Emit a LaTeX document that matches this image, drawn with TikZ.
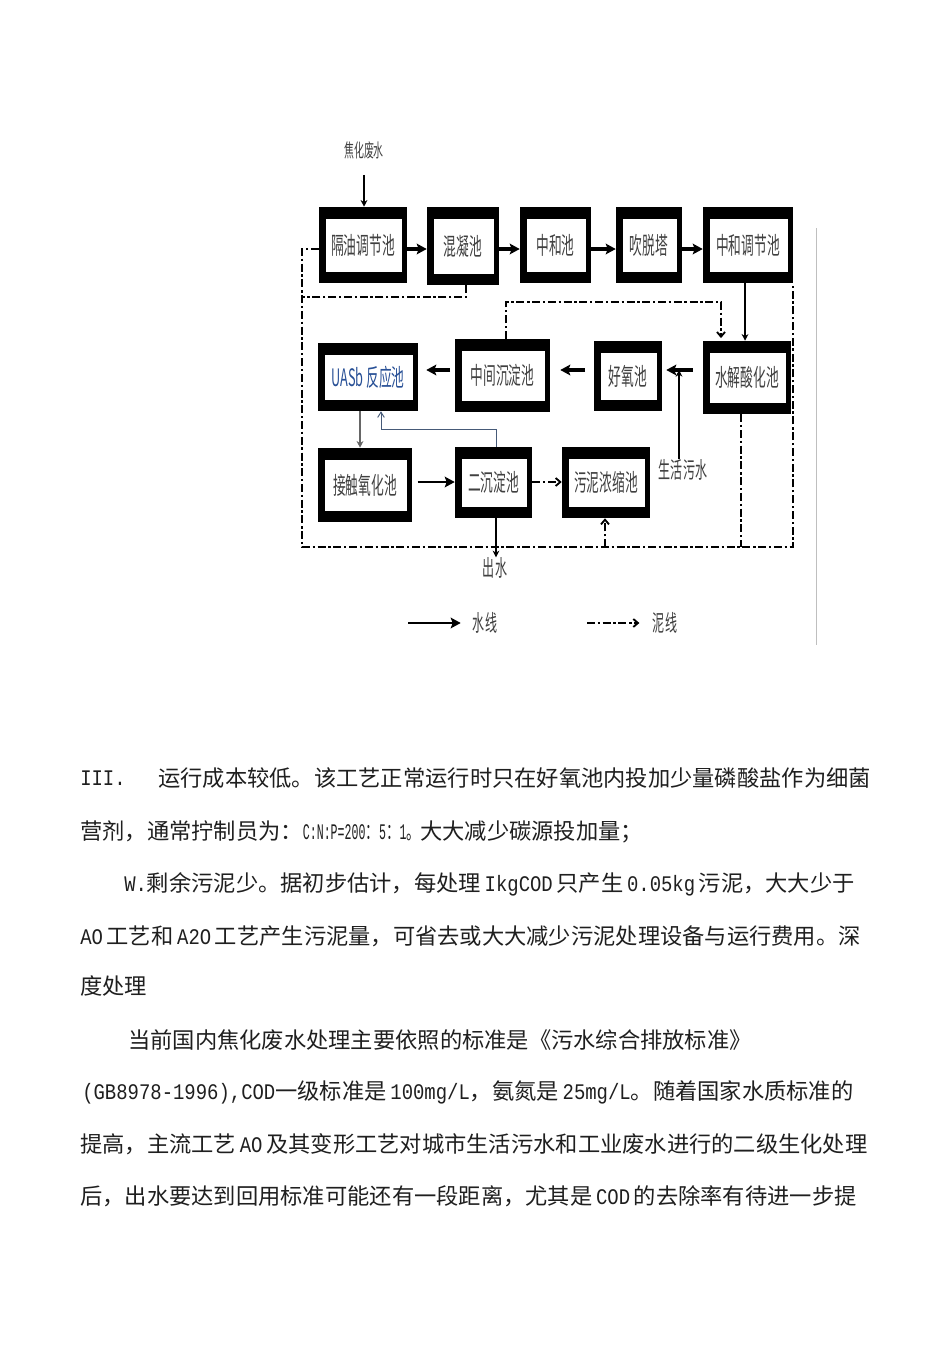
\documentclass[tikz,border=0pt]{standalone}
\usepackage{fontspec}
\setmainfont{Noto Sans CJK SC}
\newfontfamily\latf{Liberation Mono}
\usetikzlibrary{fit,arrows.meta}
\newcommand\cnd[1]{\scalebox{0.53}[1]{#1}}
\newcommand\lt[1]{\scalebox{0.85}[1]{\latf #1}}
\definecolor{uasb}{RGB}{40,80,150}
\definecolor{retc}{RGB}{70,90,120}
\tikzset{
  tank/.style={inner sep=0pt, path picture={
      \fill[black] (path picture bounding box.south west) rectangle (path picture bounding box.north east);
      \fill[white] ([shift={(5.2pt,8.2pt)}]path picture bounding box.south west) rectangle ([shift={(-3.6pt,-9pt)}]path picture bounding box.north east);}},
  tanktext/.style={font=\fontsize{18}{18}\selectfont, text=black!75, inner sep=0pt},
  lbl/.style={font=\fontsize{17}{17}\selectfont, text=black!75, inner sep=0pt},
  smalllbl/.style={font=\fontsize{14}{14}\selectfont, text=black!75, inner sep=0pt},
  body/.style={font=\fontsize{16.7}{20}\selectfont, text=black!88, anchor=west, inner sep=0pt},
  water/.style={line width=2.3pt, -{Stealth[length=7.5pt,width=8pt,inset=1.5pt]}},
  thinwater/.style={line width=0.9pt, -{Stealth[length=5pt,width=5pt]}},
  sludge/.style={line width=2.1pt, dash pattern=on 6pt off 2pt on 1.8pt off 2pt},
  sludgearrow/.style={sludge, -{Straight Barb[length=3.5pt,width=6pt,line width=1.4pt]}},
  ret/.style={line width=0.7pt, color=retc, -{Straight Barb[length=4pt,width=5pt]}},
}
\newcommand\tank[6]{%
  \node[tank, fit={(#2,#3) (#4,#5)}] (#1) {};
  \node[tanktext] at (#1.center) {#6};}
\begin{document}
\begin{tikzpicture}[x=0.75pt,y=-0.75pt]
\path[use as bounding box, fill=white] (0,0) rectangle (950,1345);

% helper coordinates
\coordinate (r1) at (0,249);
\coordinate (r2) at (0,370);
\coordinate (r3) at (0,482);
\coordinate (bot) at (0,547);
\coordinate (h1) at (0,297);
\coordinate (h2) at (0,302);
\coordinate (h3) at (0,429);
\coordinate (x302) at (302,0);
\coordinate (x360) at (360,0);
\coordinate (x381) at (381,0);
\coordinate (x466) at (466,0);
\coordinate (x496) at (496,0);
\coordinate (x506) at (506,0);
\coordinate (x605) at (605,0);
\coordinate (x679) at (679,0);
\coordinate (x721) at (721,0);
\coordinate (x741) at (741,0);
\coordinate (x745) at (745,0);
\coordinate (x793) at (793,0);

% tanks row 1
\tank{t1}{319}{207}{407}{283}{\cnd{隔油调节池}}
\tank{t2}{427}{207}{499}{285}{\cnd{混凝池}}
\tank{t3}{520}{207}{591}{283}{\cnd{中和池}}
\tank{t4}{616}{207}{682}{283}{\cnd{吹脱塔}}
\tank{t5}{703}{207}{793}{283}{\cnd{中和调节池}}
% row 2
\tank{t7}{318}{343}{418}{411}{\color{uasb}\cnd{UASb 反应池}}
\tank{t6}{455}{339}{550}{412}{\cnd{中间沉淀池}}
\tank{t8}{594}{341}{662}{411}{\cnd{好氧池}}
\tank{t9}{703}{341}{791}{414}{\cnd{水解酸化池}}
% row 3
\tank{t10}{318}{448}{412}{522}{\cnd{接触氧化池}}
\tank{t11}{455}{447}{532}{518}{\cnd{二沉淀池}}
\tank{t12}{562}{447}{650}{518}{\cnd{污泥浓缩池}}

% labels
\node[smalllbl] (feed) at (364,150) {\cnd{焦化废水}};
\node[lbl] (sew) at (683,470) {\cnd{生活污水}};
\node[lbl] (out) at (495,568) {\cnd{出水}};
\node[lbl] (lw) at (485,623) {\cnd{水线}};
\node[lbl] (ls) at (665,623) {\cnd{泥线}};
\coordinate (lw0) at (408,623);
\coordinate (ls0) at (587,623);

% water lines
\draw[thinwater, shorten <=12pt] (feed.south) -- (feed.south |- t1.north);
\draw[water] (t1.east |- r1) -- (t2.west |- r1);
\draw[water] (t2.east |- r1) -- (t3.west |- r1);
\draw[water] (t3.east |- r1) -- (t4.west |- r1);
\draw[water] (t4.east |- r1) -- (t5.west |- r1);
\draw[thinwater] (t5.south -| x745) -- (x745 |- t9.north);
\draw[water, shorten <=7.5pt, shorten >=3pt] (t9.west |- r2) -- (t8.east |- r2);
\draw[water, shorten <=6.5pt, shorten >=7.5pt] (t8.west |- r2) -- (t6.east |- r2);
\draw[water, shorten <=3.5pt, shorten >=6pt] (t6.west |- r2) -- (t7.east |- r2);
\draw[thinwater] (sew.north -| x679) -- (x679 |- r2);
\draw[thinwater, draw=black!60] (t7.south -| x360) -- (x360 |- t10.north);
\draw[ret] (t11.north -| x496) |- (x381 |- h3) -- (x381 |- t7.south);
\draw[water, line width=1.8pt, shorten <=4pt] (t10.east |- r3) -- (t11.west |- r3);
\draw[thinwater] (t11.south -| x496) -- (out.north -| x496);

% sludge lines
\draw[sludge] (t1.west |- r1) -- (x302 |- r1) -- (x302 |- bot) -- (x793 |- bot) -- (x793 |- t5.south);
\draw[sludge] (t2.south -| x466) |- (x302 |- h1);
\draw[sludgearrow] (t6.north -| x506) |- (x721 |- h2) -- ([yshift=2pt]x721 |- t9.north);
\draw[sludge] (t9.south -| x741) -- (x741 |- bot);
\draw[sludgearrow] (x605 |- bot) -- (t12.south -| x605);
\draw[sludgearrow] (t11.east |- r3) -- (t12.west |- r3);

% legend
\draw[water, line width=1.6pt] (lw0) -- ([xshift=-9pt]lw.west);
\draw[sludgearrow] (ls0) -- ([xshift=-10pt]ls.west);

% scan edge line
\draw[black!25, line width=0.6pt] (816,228) -- (816,645);

% body text
\node[body] (p1a) at (80,778) {\lt{III.}};
\node[body] (p1) at (158,778) {运行成本较低。该工艺正常运行时只在好氧池内投加少量磷酸盐作为细菌};
\node[body] (p2) at (80,832) {营剂，通常拧制员为：\resizebox{88pt}{\height}{\lt{C:N:P=200}：\lt{5}：\lt{1}。}大大减少碳源投加量；};
\node[body] (p3) at (124,884) {\lt{W.}剩余污泥少。据初步估计，每处理\,\lt{IkgCOD}\,只产生\,\lt{0.05kg}\,污泥，大大少于};
\node[body] (p4) at (80,936) {\lt{AO}\,工艺和\,\lt{A2O}\,工艺产生污泥量，可省去或大大减少污泥处理设备与运行费用。深};
\node[body] (p5) at (80,986) {度处理};
\node[body] (p6) at (128,1040) {当前国内焦化废水处理主要依照的标准是《污水综合排放标准》};
\node[body] (p7) at (82,1092) {\lt{(GB8978-1996),COD}一级标准是\,\lt{100mg/L}，氨氮是\,\lt{25mg/L}。随着国家水质标准的};
\node[body] (p8) at (80,1144) {提高，主流工艺\,\lt{AO}\,及其变形工艺对城市生活污水和工业废水进行的二级生化处理};
\node[body] (p9) at (80,1196) {后，出水要达到回用标准可能还有一段距离，尤其是\,\lt{COD}\,的去除率有待进一步提};
\end{tikzpicture}
\end{document}
